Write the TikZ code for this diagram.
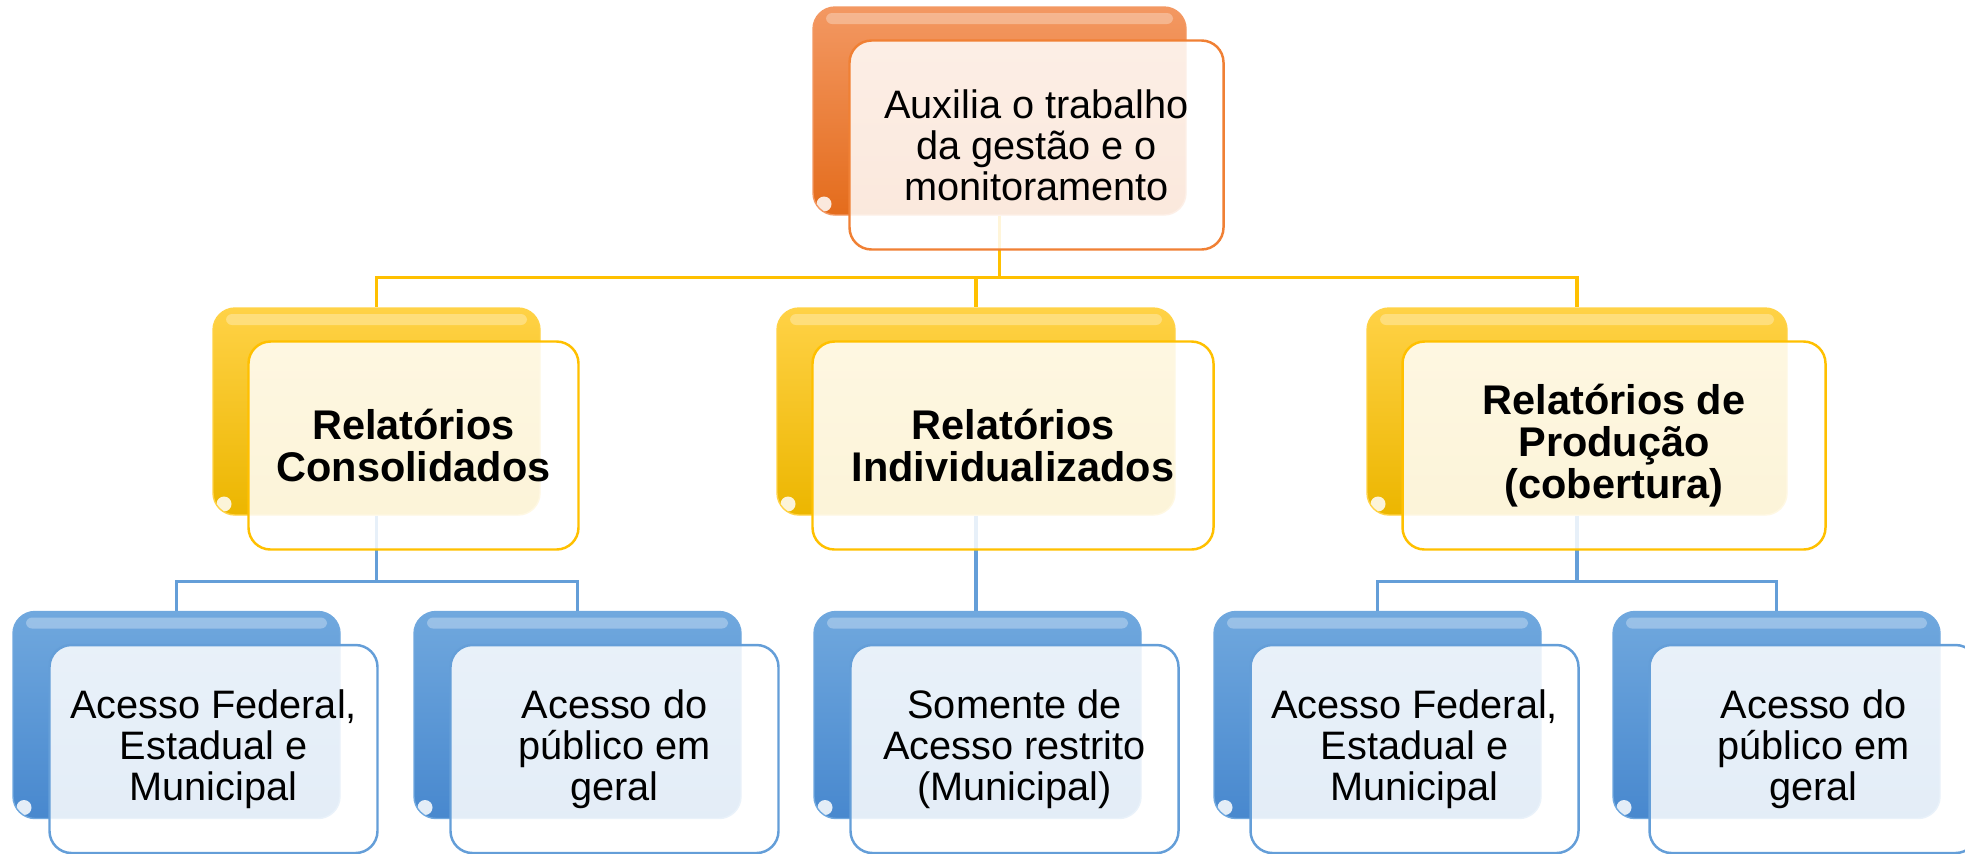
\documentclass[tikz,border=0pt]{standalone}
\usepackage{fontspec}
\setmainfont{Liberation Sans}
\definecolor{orgtop}{RGB}{243,152,98}
\definecolor{orgbot}{RGB}{228,108,28}
\definecolor{orgline}{RGB}{240,128,52}
\definecolor{goldtop}{RGB}{255,210,70}
\definecolor{goldbot}{RGB}{236,182,0}
\definecolor{goldline}{RGB}{255,192,0}
\definecolor{bluetop}{RGB}{112,168,222}
\definecolor{bluebot}{RGB}{72,136,206}
\definecolor{blueline}{RGB}{100,158,216}

\begin{document}
\begin{tikzpicture}[x=0.1mm,y=-0.1mm]
    \tikzset{back/.style = {shape=rectangle, rounded corners=2.2mm, inner sep=0pt,
        minimum width=3.27cm, minimum height=2.07cm,
        path picture={
            \fill[white,opacity=0.3,rounded corners=0.6mm]
                ([xshift=1.3mm,yshift=-0.6mm]path picture bounding box.north west) rectangle
                ([xshift=-1.3mm,yshift=-1.7mm]path picture bounding box.north east);
            \fill[white,opacity=0.85]
                ([xshift=1.1mm,yshift=1.1mm]path picture bounding box.south west) circle (0.75mm);}}}
    \tikzset{front/.style = {shape=rectangle, rounded corners=2.2mm, inner sep=0pt,
        minimum width=3.28cm, minimum height=2.08cm, xshift=3.7mm, yshift=-3.4mm,
        fill=white, fill opacity=0.85, text opacity=1, line width=0.7pt, align=center,
        font=\fontsize{11.3}{11.7}\selectfont}}
    \tikzset{rootback/.style = {back, top color=orgtop, bottom color=orgbot, draw=orgtop}}
    \tikzset{repback/.style = {back, top color=goldtop, bottom color=goldbot, draw=goldtop}}
    \tikzset{accback/.style = {back, top color=bluetop, bottom color=bluebot, draw=bluetop}}
    \tikzset{rootfront/.style = {front, draw=orgline}}
    \tikzset{repfront/.style = {front, draw=goldline, font=\fontsize{11.8}{12}\selectfont\bfseries}}
    \tikzset{accfront/.style = {front, draw=blueline}}
    \tikzset{ylink/.style = {draw=goldline, line width=0.9pt}}
    \tikzset{blink/.style = {draw=blueline, line width=0.9pt}}
    \useasboundingbox (0,0) rectangle (1965,853);
    \clip (0,0) rectangle (1965,853);
    % back boxes
    \node[rootback, minimum width=3.73cm, minimum height=2.08cm] (aux-b) at (999.5,111) {};
    \node[repback] (cons-b) at (376.5,411.5) {};
    \node[repback, minimum width=3.98cm] (ind-b) at (976,411.5) {};
    \node[repback, minimum width=4.2cm] (prod-b) at (1577,411.5) {};
    \node[accback] (fed1-b) at (176.5,715) {};
    \node[accback] (pub1-b) at (577.5,715) {};
    \node[accback] (som-b) at (977.5,715) {};
    \node[accback] (fed2-b) at (1377.5,715) {};
    \node[accback] (pub2-b) at (1776.5,715) {};
    % links
    \draw[ylink] (aux-b.south) -- ++(0,62) -| (cons-b.north);
    \draw[ylink] (aux-b.south) -- ++(0,62) -| (ind-b.north);
    \draw[ylink] (aux-b.south) -- ++(0,62) -| (prod-b.north);
    \draw[blink] (cons-b.south) -- ++(0,66) -| (fed1-b.north);
    \draw[blink] (cons-b.south) -- ++(0,66) -| (pub1-b.north);
    \draw[blink] (ind-b.south) -- (ind-b.south |- som-b.north);
    \draw[blink] (prod-b.south) -- ++(0,66) -| (fed2-b.north);
    \draw[blink] (prod-b.south) -- ++(0,66) -| (pub2-b.north);
    % front boxes
    \node[rootfront, minimum width=3.74cm, minimum height=2.09cm] (aux) at (aux-b) {Auxilia o trabalho\\da gestão e o\\monitoramento};
    \node[repfront, minimum width=3.3cm] (cons) at (cons-b) {Relatórios\\Consolidados};
    \node[repfront, minimum width=4.01cm] (ind) at (ind-b) {Relatórios\\Individualizados};
    \node[repfront, minimum width=4.23cm] (prod) at (prod-b) {Relatórios de\\Produção\\(cobertura)};
    \node[accfront] (fed1) at (fed1-b) {Acesso Federal,\\Estadual e\\Municipal};
    \node[accfront] (pub1) at (pub1-b) {Acesso do\\público em\\geral};
    \node[accfront] (som) at (som-b) {Somente de\\Acesso restrito\\(Municipal)};
    \node[accfront] (fed2) at (fed2-b) {Acesso Federal,\\Estadual e\\Municipal};
    \node[accfront] (pub2) at (pub2-b) {Acesso do\\público em\\geral};
\end{tikzpicture}
\end{document}
